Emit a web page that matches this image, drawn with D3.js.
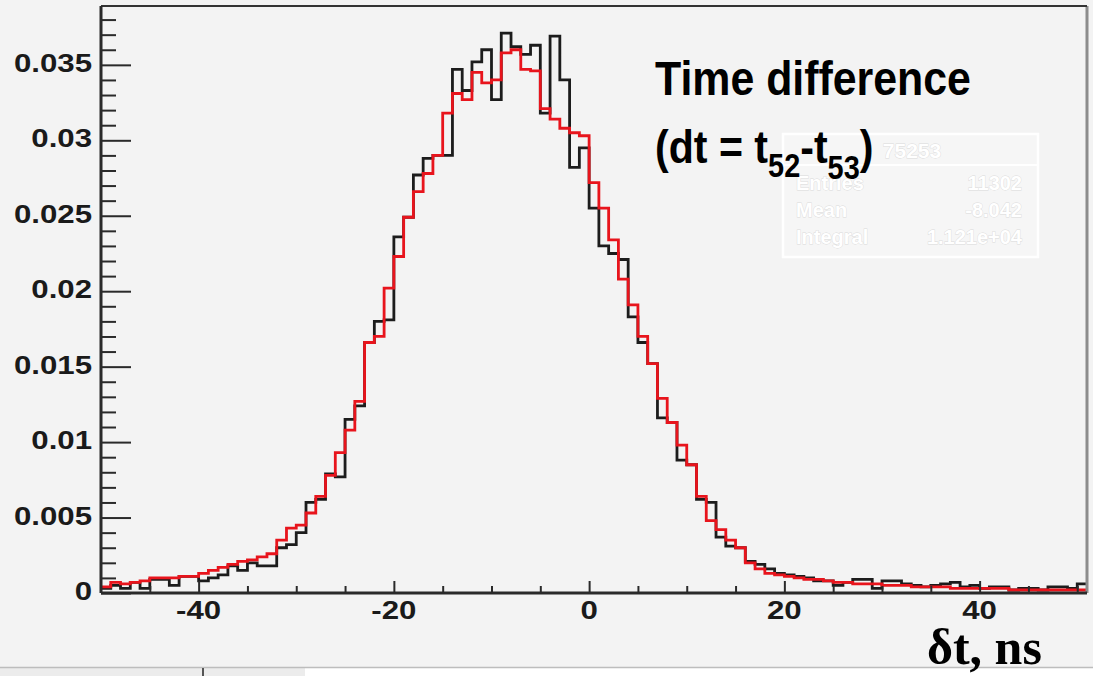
<!DOCTYPE html>
<html>
<head>
<meta charset="utf-8">
<script src="https://cdn.jsdelivr.net/npm/d3@7"></script>
<style>
  html, body { margin: 0; padding: 0; background: #f3f3f3; }
  svg { display: block; }
</style>
</head>
<body>
<svg id="chart" width="1093" height="676"></svg>
<script>
// Histogram of dt = t52 - t53, 1 ns bins starting at -50 ns
const binStart = -50;
const binWidth = 1;

// measured distribution (black)
const measured = [
  0.0003, 0.0005, 0.0003, 0.0007, 0.0003, 0.0009, 0.0009, 0.0005, 0.0011, 0.0011,
  0.0008, 0.0010, 0.0012, 0.0018, 0.0015, 0.0020, 0.0018, 0.0018, 0.0030, 0.0032,
  0.0040, 0.0060, 0.0062, 0.0079, 0.0077, 0.0115, 0.0124, 0.0166, 0.0180, 0.0181,
  0.0236, 0.0249, 0.0277, 0.0288, 0.0290, 0.0290, 0.0347, 0.0333, 0.0352, 0.0360,
  0.0327, 0.0371, 0.0362, 0.0357, 0.0363, 0.0318, 0.0369, 0.0340, 0.0282, 0.0295,
  0.0255, 0.0230, 0.0225, 0.0221, 0.0183, 0.0166, 0.0152, 0.0116, 0.0113, 0.0088,
  0.0085, 0.0062, 0.0060, 0.0037, 0.0031, 0.0030, 0.0021, 0.0019, 0.0016, 0.0013,
  0.0012, 0.0011, 0.0010, 0.0008, 0.0008, 0.0005, 0.0007, 0.0009, 0.0009, 0.0003,
  0.0008, 0.0008, 0.0006, 0.0005, 0.0004, 0.0005, 0.0006, 0.0007, 0.0004, 0.0005,
  0.0003, 0.0004, 0.0004, 0.0002, 0.0003, 0.0003, 0.0002, 0.0004, 0.0004, 0.0003,
  0.0006
];

// reference distribution (red)
const reference = [
  0.0004, 0.0007, 0.0006, 0.0007, 0.0008, 0.0010, 0.0010, 0.0010, 0.0011, 0.0011,
  0.0013, 0.0015, 0.0017, 0.0019, 0.0021, 0.0022, 0.0024, 0.0026, 0.0035, 0.0043,
  0.0045, 0.0053, 0.0064, 0.0078, 0.0093, 0.0108, 0.0127, 0.0166, 0.0170, 0.0202,
  0.0223, 0.0249, 0.0266, 0.0278, 0.0290, 0.0318, 0.0331, 0.0327, 0.0345, 0.0338,
  0.0340, 0.0358, 0.0360, 0.0347, 0.0346, 0.0321, 0.0314, 0.0308, 0.0305, 0.0303,
  0.0272, 0.0255, 0.0234, 0.0208, 0.0191, 0.0170, 0.0152, 0.0129, 0.0113, 0.0098,
  0.0085, 0.0064, 0.0048, 0.0042, 0.0035, 0.0030, 0.0020, 0.0016, 0.0013, 0.0012,
  0.0011, 0.0010, 0.0009, 0.0009, 0.0008, 0.0007, 0.0007, 0.0006, 0.0006, 0.0006,
  0.0005, 0.0005, 0.0005, 0.0004, 0.0004, 0.0004, 0.0004, 0.0003, 0.0003, 0.0003,
  0.0003, 0.0003, 0.0003, 0.0002, 0.0002, 0.0002, 0.0002, 0.0002, 0.0002, 0.0002,
  0.0002
];

const xMajorTicks = [-40, -20, 0, 20, 40];
const xMinorTicks = [-45, -35, -30, -25, -15, -10, -5, 5, 10, 15, 25, 30, 35, 45, 50];
const yMajorTicks = [0, 0.005, 0.01, 0.015, 0.02, 0.025, 0.03, 0.035];
const yTickLabels = ["0", "0.005", "0.01", "0.015", "0.02", "0.025", "0.03", "0.035"];

const statsRows = [["Entries", "11302"], ["Mean", "-8.042"], ["Integral", "1.121e+04"]];

const svg = d3.select("#chart");
const W = 1093, H = 676;
const frame = { left: 101, right: 1087, top: 6, bottom: 593 };

const x = d3.scaleLinear().domain([-50, 51]).range([frame.left, frame.right]);
const y = d3.scaleLinear().domain([0, 0.0389]).range([frame.bottom, frame.top]);

svg.append("rect").attr("width", W).attr("height", H).attr("fill", "#f3f3f3");

// statistics box (faint, behind the curves)
const statFont = "Liberation Sans, Arial, sans-serif";
const sb = svg.append("g").attr("class", "stats");
sb.append("rect").attr("x", 783).attr("y", 134).attr("width", 255).attr("height", 123)
  .attr("fill", "#ffffff").attr("fill-opacity", 0.25)
  .attr("stroke", "#ffffff").attr("stroke-width", 2.5);
sb.append("line").attr("x1", 783).attr("x2", 1038).attr("y1", 165).attr("y2", 165)
  .attr("stroke", "#ffffff").attr("stroke-width", 2);
function statText(tx, ty, anchor, size, str) {
  sb.append("text").attr("x", tx).attr("y", ty).attr("text-anchor", anchor)
    .attr("font-family", statFont).attr("font-size", size).attr("font-weight", "bold")
    .attr("fill", "#ffffff").attr("stroke", "#dadada").attr("stroke-width", 0.8)
    .attr("paint-order", "stroke")
    .text(str);
}
statText(912, 158, "middle", 21, "75253");
statsRows.forEach((r, i) => {
  const by = 190 + i * 27;
  statText(796, by, "start", 20, r[0]);
  statText(1022, by, "end", 20, r[1]);
});

// step outline of a histogram
function stepPoints(values) {
  const pts = [];
  values.forEach((v, i) => {
    const x0 = binStart + i * binWidth;
    pts.push([x(x0), y(v)]);
    pts.push([x(x0 + binWidth), y(v)]);
  });
  return pts;
}
const line = d3.line();

svg.append("path").attr("d", line(stepPoints(measured)))
  .attr("fill", "none").attr("stroke", "#1c1c1c").attr("stroke-width", 2.8)
  .attr("stroke-linejoin", "miter");
svg.append("path").attr("d", line(stepPoints(reference)))
  .attr("fill", "none").attr("stroke", "#e8141c").attr("stroke-width", 2.8)
  .attr("stroke-linejoin", "miter");

// frame
svg.append("line").attr("x1", frame.right).attr("x2", frame.right)
  .attr("y1", frame.top).attr("y2", frame.bottom)
  .attr("stroke", "#8c8c8c").attr("stroke-width", 3);
svg.append("line").attr("x1", frame.left).attr("x2", frame.right)
  .attr("y1", frame.top).attr("y2", frame.top)
  .attr("stroke", "#333").attr("stroke-width", 2);

// axes
const axisFont = "Liberation Sans, Arial, Helvetica, sans-serif";
const yMinor = d3.range(0, 0.0385, 0.001).filter(v => Math.abs(v / 0.005 - Math.round(v / 0.005)) > 1e-6);

const yAxis = svg.append("g").attr("transform", `translate(${frame.left},0)`)
  .call(d3.axisRight(y).tickValues(yMajorTicks).tickSize(30).tickFormat(""));
svg.append("g").attr("transform", `translate(${frame.left},0)`)
  .call(d3.axisRight(y).tickValues(yMinor).tickSize(15).tickFormat(""))
  .call(g => g.select(".domain").remove());

const xAxis = svg.append("g").attr("transform", `translate(0,${frame.bottom})`)
  .call(d3.axisTop(x).tickValues(xMajorTicks).tickSize(12).tickFormat(""));
svg.append("g").attr("transform", `translate(0,${frame.bottom})`)
  .call(d3.axisTop(x).tickValues(xMinorTicks).tickSize(7).tickFormat(""))
  .call(g => g.select(".domain").remove());

svg.selectAll(".tick line").attr("stroke", "#2a2a2a").attr("stroke-width", 2);
yAxis.select(".domain").attr("stroke", "#2a2a2a").attr("stroke-width", 3)
  .attr("d", `M0,${frame.top}V${frame.bottom}`);
xAxis.select(".domain").attr("stroke", "#2a2a2a").attr("stroke-width", 3)
  .attr("d", `M${frame.left},0H${frame.right}`);

// tick labels
yMajorTicks.forEach((v, i) => {
  svg.append("text")
    .attr("transform", `translate(92,${y(v) + 7}) scale(1.2,1)`)
    .attr("text-anchor", "end").attr("font-family", axisFont)
    .attr("font-weight", "bold").attr("font-size", 26).attr("fill", "#1a1a1a")
    .text(yTickLabels[i]);
});
xMajorTicks.forEach(v => {
  svg.append("text")
    .attr("transform", `translate(${x(v)},619) scale(1.2,1)`)
    .attr("text-anchor", "middle").attr("font-family", axisFont)
    .attr("font-weight", "bold").attr("font-size", 26).attr("fill", "#1a1a1a")
    .text(v);
});

// window strip along the bottom edge
svg.append("rect").attr("x", 0).attr("y", 667).attr("width", 305).attr("height", 9).attr("fill", "#ececec");
svg.append("rect").attr("x", 305).attr("y", 667).attr("width", W - 305).attr("height", 9).attr("fill", "#ffffff");
svg.append("line").attr("x1", 0).attr("x2", W).attr("y1", 667.5).attr("y2", 667.5)
  .attr("stroke", "#bdbdbd").attr("stroke-width", 1.5);
svg.append("line").attr("x1", 203).attr("x2", 203).attr("y1", 668).attr("y2", 676)
  .attr("stroke", "#555").attr("stroke-width", 2);

// annotation
const titleFont = "Liberation Sans Narrow, Liberation Sans, Arial, sans-serif";
svg.append("text")
  .attr("transform", "translate(655,95) scale(0.875,1)")
  .attr("font-family", titleFont).attr("font-weight", "bold").attr("font-size", 49)
  .attr("fill", "#000").text("Time difference");
const t2 = svg.append("text")
  .attr("transform", "translate(655,163) scale(0.875,1)")
  .attr("font-family", titleFont).attr("font-weight", "bold").attr("font-size", 47)
  .attr("fill", "#000");
t2.append("tspan").text("(dt = t");
t2.append("tspan").attr("font-size", 33).attr("dy", 14).text("52");
t2.append("tspan").attr("dy", -14).text("-t");
t2.append("tspan").attr("font-size", 33).attr("dy", 16).text("53");
t2.append("tspan").attr("dy", -16).text(")");

// x-axis title
svg.append("text").attr("x", 927).attr("y", 664)
  .attr("font-family", "Liberation Serif, Times New Roman, serif")
  .attr("font-weight", "bold").attr("font-size", 50).attr("fill", "#000")
  .text("δt, ns");
</script>
</body>
</html>
